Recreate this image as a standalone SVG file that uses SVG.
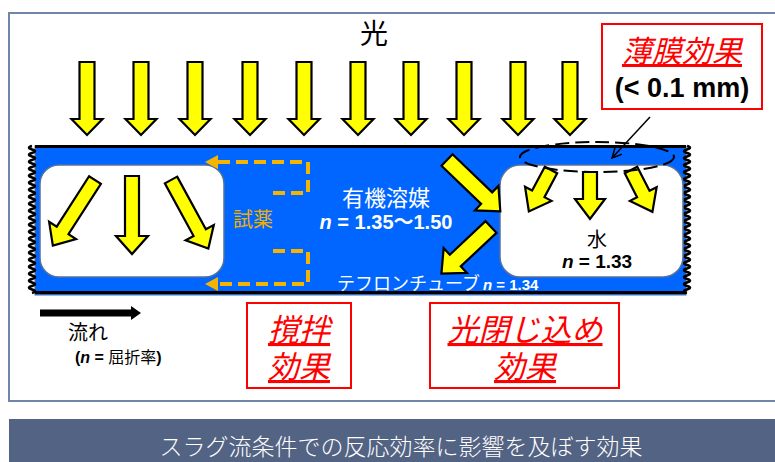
<svg xmlns="http://www.w3.org/2000/svg" xmlns:xlink="http://www.w3.org/1999/xlink" width="775" height="462" viewBox="0 0 775 462">
<style>
.yl{fill:#ffff00;stroke:#000;stroke-width:2.2;stroke-linejoin:miter}
.jp{font-family:"Noto Sans CJK JP",sans-serif}
.lat{font-family:"Liberation Sans","Noto Sans CJK JP",sans-serif;font-weight:bold}
.red{fill:#ff0000;font-family:"Noto Sans CJK JP",sans-serif;font-style:italic;text-decoration:underline}
.box{fill:#fff;stroke:#ff0000;stroke-width:2}
.slug{fill:#fff;stroke:#55729c;stroke-width:1.5}
.wave{fill:none;stroke:#000;stroke-width:2.5}
.reag{fill:none;stroke:#f5b400;stroke-width:4;stroke-dasharray:12 6}
</style>
<defs>
<path id="la" d="M-7.5,0 H7.5 V57 H15.5 L0,73 L-15.5,57 H-7.5 Z"/>
<path id="sa" d="M0,-7 H60 V-16 L78,0 L60,16 V7 H0 Z"/>
<path id="wa" d="M0,-7 H27 V-15 L47,0 L27,15 V7 H0 Z"/>
<marker id="open" markerWidth="12" markerHeight="12" refX="10" refY="5" orient="auto" markerUnits="userSpaceOnUse">
<path d="M0,0 L10,5 L0,10" fill="none" stroke="#000" stroke-width="1.5"/>
</marker>
</defs>
<rect width="775" height="462" fill="#fff"/>
<rect id="frame" x="9" y="13" width="790" height="388" fill="#fff" stroke="#7086a8" stroke-width="2"/>

<g id="tube">
<rect x="35" y="146" width="651" height="149" fill="#0066ff" stroke="#4f6fa0" stroke-width="1"/>
<line x1="35" y1="146.5" x2="686" y2="146.5" stroke="#000" stroke-width="3"/>
<line x1="35" y1="292.5" x2="686" y2="292.5" stroke="#000" stroke-width="3"/>
<path class="wave" d="M32,146 q-6,1.75 0,3.5 t0,3.5 t0,3.5 t0,3.5 t0,3.5 t0,3.5 t0,3.5 t0,3.5 t0,3.5 t0,3.5 t0,3.5 t0,3.5 t0,3.5 t0,3.5 t0,3.5 t0,3.5 t0,3.5 t0,3.5 t0,3.5 t0,3.5 t0,3.5 t0,3.5 t0,3.5 t0,3.5 t0,3.5 t0,3.5 t0,3.5 t0,3.5 t0,3.5 t0,3.5 t0,3.5 t0,3.5 t0,3.5 t0,3.5 t0,3.5 t0,3.5 t0,3.5 t0,3.5 t0,3.5 t0,3.5 t0,3.5 t0,3.5"/>
<path class="wave" d="M687,146 q6,1.75 0,3.5 t0,3.5 t0,3.5 t0,3.5 t0,3.5 t0,3.5 t0,3.5 t0,3.5 t0,3.5 t0,3.5 t0,3.5 t0,3.5 t0,3.5 t0,3.5 t0,3.5 t0,3.5 t0,3.5 t0,3.5 t0,3.5 t0,3.5 t0,3.5 t0,3.5 t0,3.5 t0,3.5 t0,3.5 t0,3.5 t0,3.5 t0,3.5 t0,3.5 t0,3.5 t0,3.5 t0,3.5 t0,3.5 t0,3.5 t0,3.5 t0,3.5 t0,3.5 t0,3.5 t0,3.5 t0,3.5 t0,3.5 t0,3.5"/>
<text class="jp" x="386" y="206" font-size="22" fill="#fff" text-anchor="middle">有機溶媒</text>
<text class="lat" x="386" y="229" font-size="20" fill="#fff" text-anchor="middle"><tspan font-style="italic">n</tspan> = 1.35～1.50</text>
<text x="337" y="290" fill="#fff"><tspan class="jp" font-size="18">テフロンチューブ</tspan><tspan class="lat" font-size="15" dx="3"><tspan font-style="italic">n</tspan> = 1.34</tspan></text>
</g>

<g id="slug-reagent">
<rect class="slug" x="40" y="165" width="184" height="112" rx="19"/>
<use href="#sa" class="yl" transform="translate(95,180) rotate(122.7)"/>
<use href="#sa" class="yl" transform="translate(132,176) rotate(90)"/>
<use href="#sa" class="yl" transform="translate(171,180) rotate(61.4)"/>
</g>

<g id="slug-water">
<rect class="slug" x="500" y="165" width="183" height="112" rx="20"/>
<use href="#wa" class="yl" transform="translate(551,170) rotate(118.1)"/>
<use href="#wa" class="yl" transform="translate(590,172) rotate(90)"/>
<use href="#wa" class="yl" transform="translate(631,170) rotate(62.9)"/>
<text class="jp" x="597" y="247" font-size="20" fill="#000" text-anchor="middle">水</text>
<text class="lat" x="597" y="268" font-size="19" fill="#000" text-anchor="middle"><tspan font-style="italic">n</tspan> = 1.33</text>
</g>

<g id="reagent">
<path class="reag" d="M273,193 H308 V162 H216"/>
<polygon points="205,162 218,155 218,169" fill="#f5b400"/>
<path class="reag" d="M273,251 H308 V284 H216"/>
<polygon points="205,284 218,277 218,291" fill="#f5b400"/>
<text class="jp" x="253" y="227" font-size="20" fill="#f0b000" text-anchor="middle">試薬</text>
</g>

<g id="light">
<text class="jp" x="374" y="44" font-size="28" fill="#000" text-anchor="middle">光</text>
<use href="#la" class="yl" x="87" y="62"/>
<use href="#la" class="yl" x="141" y="62"/>
<use href="#la" class="yl" x="195" y="62"/>
<use href="#la" class="yl" x="250" y="62"/>
<use href="#la" class="yl" x="304" y="62"/>
<use href="#la" class="yl" x="358" y="62"/>
<use href="#la" class="yl" x="411" y="62"/>
<use href="#la" class="yl" x="464" y="62"/>
<use href="#la" class="yl" x="518" y="62"/>
<use href="#la" class="yl" x="570" y="62"/>
</g>

<g id="connectors">
<path class="yl" transform="translate(447,160) rotate(43.9)" d="M0,-8 H55 V-17 L74,0 L55,17 V8 H0 Z"/>
<path class="yl" transform="translate(491,227) rotate(136.8)" d="M0,-8 H49 V-17 L68,0 L49,17 V8 H0 Z"/>
<ellipse cx="597" cy="157" rx="77" ry="15" fill="none" stroke="#000" stroke-width="2" stroke-dasharray="14 6"/>
<line x1="650" y1="117" x2="612" y2="158" stroke="#000" stroke-width="1.5" marker-end="url(#open)"/>
<line x1="40" y1="313" x2="133" y2="313" stroke="#000" stroke-width="7"/>
<polygon points="131,306 141,313 131,320" fill="#000"/>
</g>

<g id="film-box">
<rect class="box" x="602" y="24" width="160" height="85"/>
<text class="red" x="682" y="62" font-size="30" text-anchor="middle">薄膜効果</text>
<text class="lat" x="682" y="97" font-size="27" fill="#000" text-anchor="middle">(&lt; 0.1 mm)</text>
</g>

<g id="flow-label">
<text class="jp" x="68" y="340" font-size="20" fill="#000">流れ</text>
<text x="75" y="363" font-size="16" fill="#000"><tspan class="lat">(</tspan><tspan class="lat" font-style="italic">n</tspan><tspan class="lat"> = </tspan><tspan class="jp">屈折率</tspan><tspan class="lat">)</tspan></text>
</g>

<g id="stir-box">
<rect class="box" x="247" y="303" width="104" height="85"/>
<text class="red" x="299" y="341" font-size="31" text-anchor="middle">撹拌</text>
<text class="red" x="299" y="378" font-size="31" text-anchor="middle">効果</text>
</g>

<g id="confine-box">
<rect class="box" x="430" y="303" width="189" height="85"/>
<text class="red" x="525" y="341" font-size="31" text-anchor="middle">光閉じ込め</text>
<text class="red" x="525" y="378" font-size="31" text-anchor="middle">効果</text>
</g>

<g id="banner">
<rect x="9" y="419" width="790" height="50" fill="#536383"/>
<text class="jp" x="401" y="455" font-size="23" fill="#fff" font-weight="300" text-anchor="middle">スラグ流条件での反応効率に影響を及ぼす効果</text>
</g>
</svg>
